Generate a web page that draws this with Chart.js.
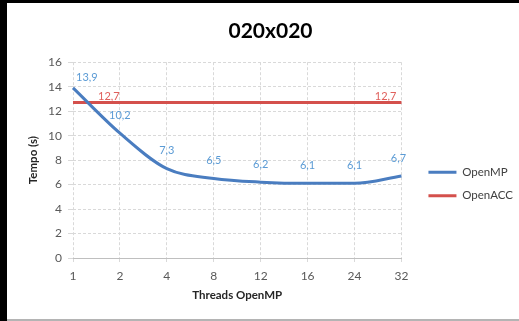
<!DOCTYPE html>
<html>
<head>
<meta charset="utf-8">
<script src="https://cdn.jsdelivr.net/npm/chart.js@4"></script>
<style>
  html, body { margin: 0; padding: 0; background: #000; }
  #frame { position: absolute; left: 7px; top: 3px; width: 512px; height: 316px; background: #fff; }
  #edge { position: absolute; left: 7px; top: 319px; width: 512px; height: 2px; background: #b4b4b4; }
  #chart { position: absolute; left: 0; top: 0; }
</style>
</head>
<body>
<div id="frame"></div>
<div id="edge"></div>
<canvas id="chart" width="519" height="321"></canvas>
<script>
const threads = ["1", "2", "4", "8", "12", "16", "24", "32"]
const openmp = [13.9, 10.2, 7.3, 6.5, 6.2, 6.1, 6.1, 6.7]
const openacc = [12.7, 12.7, 12.7, 12.7, 12.7, 12.7, 12.7, 12.7]
const yMin = 0
const yMax = 16
const yStep = 2

const BLUE = "#4a7dc0"
const RED = "#d4504c"
const GRID = "#d9d9d9"

Chart.defaults.font.family = "Lato, 'Liberation Sans', sans-serif"

const fmt = v => v.toFixed(1).replace(".", ",")

// Excel-style data labels: every OpenMP point, OpenACC only at both ends
const valueLabels = {
  id: "valueLabels",
  afterDatasetsDraw(chart) {
    const ctx = chart.ctx
    ctx.save()
    ctx.font = "11px Lato, 'Liberation Sans', sans-serif"
    ctx.textBaseline = "middle"

    ctx.fillStyle = "#5b9bd5"
    const mp = chart.getDatasetMeta(0).data
    mp.forEach((pt, i) => {
      const txt = fmt(openmp[i])
      if (i === 0) {
        ctx.textAlign = "left"
        ctx.fillText(txt, pt.x + 3, pt.y - 10)
      } else if (i === mp.length - 1) {
        ctx.textAlign = "center"
        ctx.fillText(txt, pt.x - 3, pt.y - 18)
      } else {
        ctx.textAlign = "center"
        ctx.fillText(txt, pt.x, pt.y - 18)
      }
    })

    ctx.fillStyle = "#e0605c"
    const acc = chart.getDatasetMeta(1).data
    const first = acc[0]
    const last = acc[acc.length - 1]
    ctx.textAlign = "left"
    ctx.fillText(fmt(openacc[0]), first.x + 25, first.y - 6)
    ctx.textAlign = "right"
    ctx.fillText(fmt(openacc[acc.length - 1]), last.x - 5, last.y - 6)
    ctx.restore()
  }
}

new Chart(document.getElementById("chart"), {
  type: "line",
  data: {
    labels: threads,
    datasets: [
      {
        label: "OpenMP",
        data: openmp,
        borderColor: BLUE,
        backgroundColor: BLUE,
        borderWidth: 3,
        pointRadius: 0,
        cubicInterpolationMode: "monotone"
      },
      {
        label: "OpenACC",
        data: openacc,
        borderColor: RED,
        backgroundColor: RED,
        borderWidth: 3,
        pointRadius: 0
      }
    ]
  },
  options: {
    responsive: false,
    animation: false,
    layout: { padding: { left: 18, right: -4, top: 0, bottom: 15 } },
    plugins: {
      title: {
        display: true,
        text: "020x020",
        color: "#000",
        font: { size: 21, weight: "bold" },
        padding: { top: 19, bottom: 18 }
      },
      legend: {
        position: "right",
        align: "start",
        maxWidth: 140,
        // empty title only pushes the items down to where Excel puts them
        title: { display: true, text: "", padding: { top: 0, bottom: 140 } },
        labels: {
          usePointStyle: true,
          pointStyle: "line",
          pointStyleWidth: 28,
          padding: 12,
          color: "#404040",
          font: { size: 11.5 }
        }
      },
      tooltip: { enabled: false }
    },
    scales: {
      x: {
        type: "category",
        offset: false,
        grid: { color: GRID, tickColor: GRID, tickLength: 4 },
        border: { display: true, color: "#bfbfbf", dash: [3, 2] },
        ticks: { color: "#595959", font: { size: 12 }, padding: 7, maxRotation: 0, autoSkip: false },
        title: {
          display: true,
          text: "Threads OpenMP",
          color: "#262626",
          font: { size: 11.5, weight: "bold" },
          padding: { top: 4, bottom: 4 }
        },
        afterFit: s => { s.height = 48 }
      },
      y: {
        min: yMin,
        max: yMax,
        grid: { color: GRID, tickColor: GRID, tickLength: 5 },
        border: { display: false, dash: [3, 2] },
        ticks: { stepSize: yStep, color: "#595959", font: { size: 12 }, padding: 6 },
        title: {
          display: true,
          text: "Tempo (s)",
          color: "#262626",
          font: { size: 11.5, weight: "bold" },
          padding: { top: 8, bottom: 4 }
        },
        afterFit: s => { s.width = 55 }
      },
      gap: {
        type: "linear",
        position: "right",
        display: true,
        grid: { display: false },
        ticks: { display: false },
        border: { display: false },
        afterFit: s => { s.width = 15 }
      }
    }
  },
  plugins: [valueLabels]
})
</script>
</body>
</html>
